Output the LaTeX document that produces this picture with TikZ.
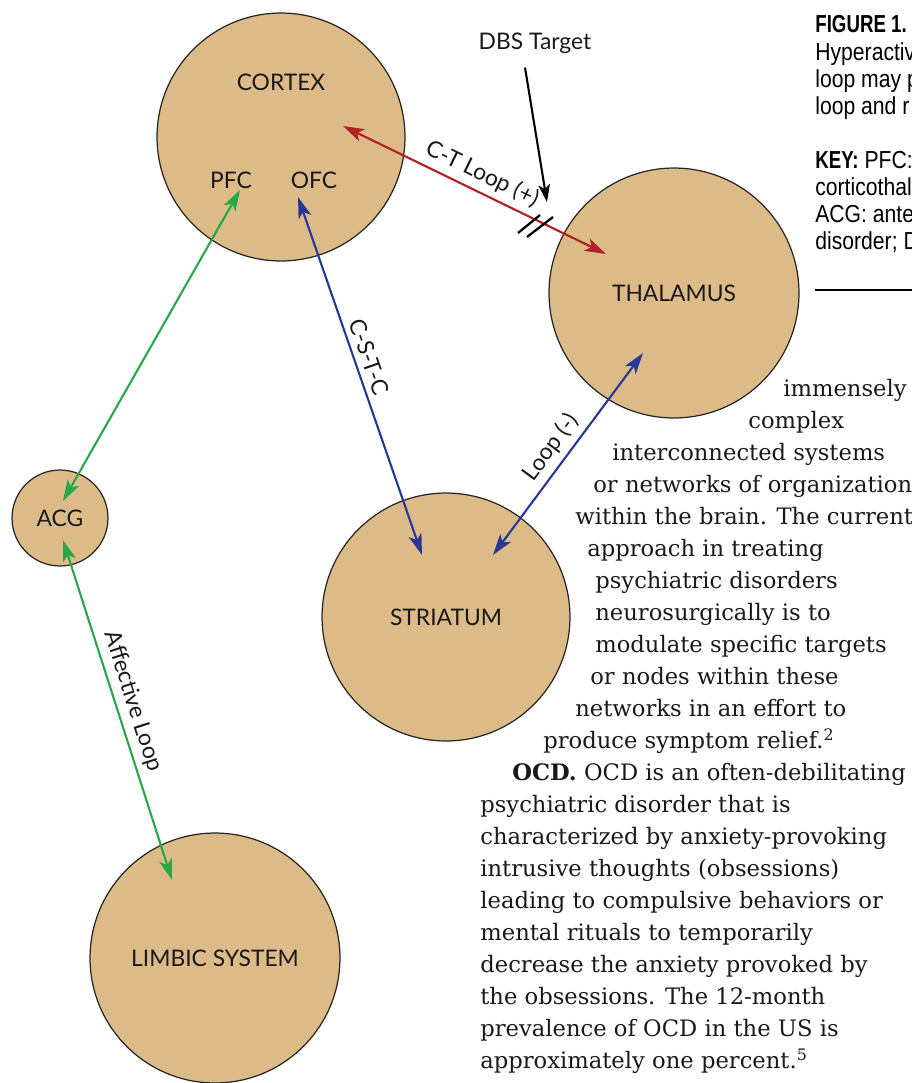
\documentclass[tikz,border=0pt]{standalone}
\usepackage{fontspec}
\setmainfont{DejaVu Serif}
\newfontfamily\figfont{Lato}
\newfontfamily\capfont[FakeStretch=0.86]{Liberation Sans}
\newfontfamily\capheadfont[FakeStretch=0.76]{Liberation Sans}
\usetikzlibrary{arrows.meta,calc}

\definecolor{tissue}{RGB}{221,187,136}
\definecolor{ctred}{RGB}{178,32,38}
\definecolor{cstblue}{RGB}{40,56,150}
\definecolor{affgreen}{RGB}{38,168,74}

\begin{document}
\begin{tikzpicture}[
    x=0.02cm, y=-0.02cm,
    every node/.style={text=black!90},
    region/.style={circle, draw=black!85, line width=0.7pt, fill=tissue, inner sep=0pt,
                   minimum size=#1, font=\figfont\fontsize{13}{15}\selectfont},
    tag/.style={font=\figfont\fontsize{13}{15}\selectfont},
    pathway/.style={{Stealth[length=12pt,width=7.5pt,inset=3pt]}-{Stealth[length=12pt,width=7.5pt,inset=3pt]},
                    line width=1.2pt},
    pointer/.style={-{Stealth[length=10pt,width=6.6pt,inset=2.5pt]}, line width=1.2pt, black},
    cutmark/.style={black, line width=1.3pt},
    body/.style={anchor=base west, inner sep=0pt, font=\fontsize{12.9}{18}\selectfont},
    caption/.style={anchor=base west, inner sep=0pt, text=black, font=\capfont\fontsize{14}{16}\selectfont},
]
\useasboundingbox (0,0) rectangle (912,1083);
\clip (0,0) rectangle (912,1083);

% regions
\node[region=4.96cm] (cortex) at (281,137) {};
\node[tag] (cortexlbl) at (281,82) {CORTEX};
\node[tag] (pfc) at (231,180) {PFC};
\node[tag] (ofc) at (314,180) {OFC};
\node[region=5cm] (thalamus) at (674,293) {THALAMUS};
\node[region=1.92cm] (acg) at (60,518) {ACG};
\node[region=4.96cm] (striatum) at (446,617) {STRIATUM};
\node[region=5cm] (limbic) at (215,958) {LIMBIC SYSTEM};
\node[tag] (dbs) at (535,43) {DBS Target};

% arrow ends
\coordinate (ctA) at (343,126);
\coordinate (ctB) at (606,254);
\coordinate (cstcA) at (298,197);
\coordinate (cstcB) at (422,555);
\coordinate (negA) at (493,555);
\coordinate (negB) at (643,353);
\coordinate (pfcA) at (240,190);
\coordinate (pfcB) at (63,501);
\coordinate (affA) at (63,540);
\coordinate (affB) at (172,880);
\coordinate (dbstip) at (547,202);
\coordinate (cut) at (535,225);

\draw[pathway, ctred] (ctA) -- node[tag, sloped, above, pos=0.5] (ctlbl) {C-T Loop (+)} (ctB);
\draw[pathway, cstblue] (cstcA) -- node[tag, sloped, above, pos=0.46] (cstclbl) {C-S-T-C} (cstcB);
\draw[pathway, cstblue] (negA) -- node[tag, sloped, above, pos=0.48] (neglbl) {Loop (-)} (negB);
\draw[pathway, affgreen] (pfcA) -- (pfcB);
\draw[pathway, affgreen] (affA) -- node[tag, sloped, above, pos=0.49] (afflbl) {Affective Loop} (affB);

\draw[pointer] ($(dbs.south)+(-10,8)$) -- (dbstip);
\draw[cutmark] ([shift={(-17,8)}]cut) -- ++(22,-18);
\draw[cutmark] ([shift={(-8,12)}]cut) -- ++(26,-20);

% caption
\node[caption, font=\capheadfont\bfseries\fontsize{14}{16}\selectfont] (fig) at (815,32) {FIGURE 1.};
\foreach \y/\t [count=\i] in {60/Hyperactiv, 87/loop may p, 114/loop and r,
    168/{\capheadfont\bfseries KEY:} PFC:, 195/corticothal, 222/ACG: anter, 249/disorder; D}
    \node[caption] (cap\i) at (815,\y) {\t};
\draw[line width=1.3pt] (815,290) -- (912,290);

% running text
\foreach \x/\y/\t [count=\i] in {
    783/396/immensely,
    748/428/complex,
    612/460/interconnected systems,
    593/492/or networks of organization,
    575/524/within the brain. The current,
    587/556/approach in treating,
    595/588/psychiatric disorders,
    595/620/neurosurgically is to,
    595/652/modulate specific targets,
    590/684/or nodes within these,
    575/716/networks in an effort to,
    543/748/produce symptom relief.\textsuperscript{2},
    512/780/\textbf{OCD.} OCD is an often-debilitating,
    480/812/psychiatric disorder that is,
    480/844/characterized by anxiety-provoking,
    480/876/intrusive thoughts (obsessions),
    480/908/leading to compulsive behaviors or,
    480/940/mental rituals to temporarily,
    480/972/decrease the anxiety provoked by,
    480/1004/the obsessions. The 12-month,
    480/1036/prevalence of OCD in the US is,
    480/1068/approximately one percent.\textsuperscript{5}}
    \node[body] (body\i) at (\x,\y) {\t};
\end{tikzpicture}
\end{document}
